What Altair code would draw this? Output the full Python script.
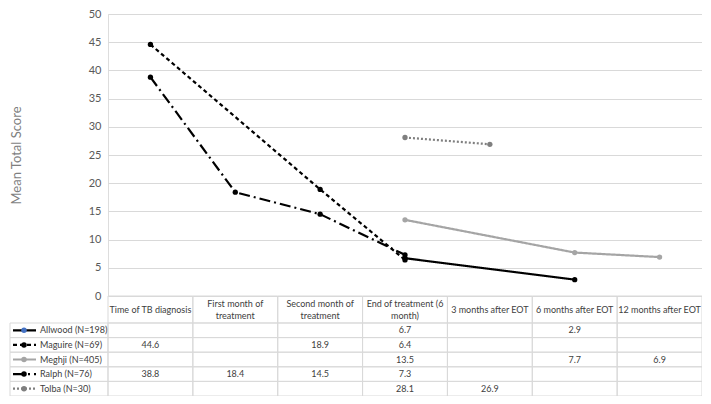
import altair as alt
import pandas as pd

FONT = "Lato"

categories = [
    "Time of TB diagnosis",
    "First month of treatment",
    "Second month of treatment",
    "End of treatment (6 month)",
    "3 months after EOT",
    "6 months after EOT",
    "12 months after EOT",
]
header_labels = [
    "Time of TB diagnosis",
    "First month of|treatment",
    "Second month of|treatment",
    "End of treatment (6|month)",
    "3 months after EOT",
    "6 months after EOT",
    "12 months after EOT",
]
series = ["Allwood (N=198)", "Maguire (N=69)", "Meghji (N=405)", "Ralph (N=76)", "Tolba (N=30)"]

allwood = [None, None, None, 6.7, None, 2.9, None]
maguire = [44.6, None, 18.9, 6.4, None, None, None]
meghji = [None, None, None, 13.5, None, 7.7, 6.9]
ralph = [38.8, 18.4, 14.5, 7.3, None, None, None]
tolba = [None, None, None, 28.1, 26.9, None, None]

y_ticks = [0, 5, 10, 15, 20, 25, 30, 35, 40, 45, 50]

line_colors = ["#000000", "#000000", "#A5A5A5", "#000000", "#7F7F7F"]
legend_marker_fill = ["#4472C4", "#000000", "#A5A5A5", "#000000", "#7F7F7F"]
dashes = [[1, 0], [4, 3], [1, 0], [11, 4, 2, 4], [2, 2]]

values_by_series = [allwood, maguire, meghji, ralph, tolba]

pts, cells = [], []
for s, vals in zip(series, values_by_series):
    for i, (c, v) in enumerate(zip(categories, vals)):
        cells.append({"series": s, "category": c, "label": "" if v is None else f"{v:.1f}"})
        if v is not None:
            pts.append({"series": s, "category": c, "ci": i, "value": v})
df_pts = pd.DataFrame(pts)
df_cells = pd.DataFrame(cells)
df_header = pd.DataFrame({"category": categories, "label": header_labels})
df_header["two"] = df_header["label"].str.contains(r"\|")
df_series = pd.DataFrame({"series": series})

xscale = alt.Scale(type="band", domain=categories, paddingInner=0, paddingOuter=0)
X = alt.X("category:N", sort=categories, scale=xscale, axis=None)
Xc = alt.X("category:N", sort=categories, bandPosition=0.5, scale=xscale, axis=None)
yscale = alt.Scale(domain=[0, 50])
Yv = alt.Y("value:Q", scale=yscale,
           axis=alt.Axis(values=y_ticks, grid=True, gridColor="#D9D9D9", domain=False, ticks=False,
                         labelColor="#595959", labelFontSize=11, labelFont=FONT, labelPadding=7,
                         title="Mean Total Score", titleFont=FONT, titleFontSize=13,
                         titleFontWeight="normal", titleColor="#7F7F7F",
                         titleX=-92, titleY=141, titleAngle=270, titleBaseline="middle",
                         titleAlign="center"))
Yv2 = alt.Y("value:Q", scale=yscale, axis=None)
tscale = alt.Scale(type="band", domain=series, range=[309, 382], paddingInner=0, paddingOuter=0)
Yt = alt.Y("series:N", scale=tscale, axis=None)
Ytc = alt.Y("series:N", scale=tscale, axis=None, bandPosition=0.5)

color = alt.Color("series:N", scale=alt.Scale(domain=series, range=line_colors), legend=None)
dash = alt.StrokeDash("series:N", scale=alt.Scale(domain=series, range=dashes), legend=None)
fill = alt.Fill("series:N", scale=alt.Scale(domain=series, range=legend_marker_fill), legend=None)

lines = alt.Chart(df_pts).mark_line(strokeWidth=2.2).encode(
    x=X, y=Yv, color=color, strokeDash=dash, order="ci:Q", detail="series:N")
points = alt.Chart(df_pts).mark_circle(size=28, opacity=1).encode(
    x=X, y=Yv2, color=color)

TS = 9
TC = "#404040"
border = dict(fillOpacity=0, stroke="#D9D9D9", strokeWidth=1)
cell_rects = alt.Chart(df_cells).mark_rect(**border).encode(x=X, y=Yt)
cell_text = alt.Chart(df_cells).mark_text(font=FONT, fontSize=TS, color=TC).encode(
    x=Xc, y=Ytc, text="label:N")
head_rects = alt.Chart(df_header).mark_rect(**border).encode(
    x=X, y=alt.value(282), y2=alt.value(309))
head_text1 = alt.Chart(df_header).transform_filter("!datum.two").mark_text(
    font=FONT, fontSize=TS, color=TC, baseline="middle").encode(
    x=Xc, y=alt.value(295.5), text="label:N")
head_text2 = alt.Chart(df_header).transform_filter("datum.two").mark_text(
    font=FONT, fontSize=TS, color=TC, lineBreak="|", baseline="middle", lineHeight=12).encode(
    x=Xc, y=alt.value(289.5), text="label:N")
leg_rects = alt.Chart(df_series).mark_rect(**border).encode(
    x=alt.value(-98), x2=alt.value(0), y=Yt)
leg_lines = alt.Chart(df_series).mark_rule(strokeWidth=2.2).encode(
    x=alt.value(-95), x2=alt.value(-72), y=Ytc, color=color, strokeDash=dash)
leg_pts = alt.Chart(df_series).mark_circle(size=30, opacity=1).encode(
    x=alt.value(-84), y=Ytc, fill=fill)
leg_text = alt.Chart(df_series).mark_text(font=FONT, fontSize=TS, color=TC,
                                          align="left").encode(
    x=alt.value(-68), y=Ytc, text="series:N")

chart = alt.layer(
    lines, points, cell_rects, cell_text, head_rects, head_text1, head_text2,
    leg_rects, leg_lines, leg_pts, leg_text
).resolve_scale(y="independent").properties(
    width=594, height=282,
    autosize=alt.AutoSizeParams(type="none"),
    padding={"left": 100, "top": 6, "right": 0, "bottom": 100},
).configure_view(strokeWidth=0).configure(background="white")

chart.save("out.html", embed_options={"renderer": "svg", "actions": False})
